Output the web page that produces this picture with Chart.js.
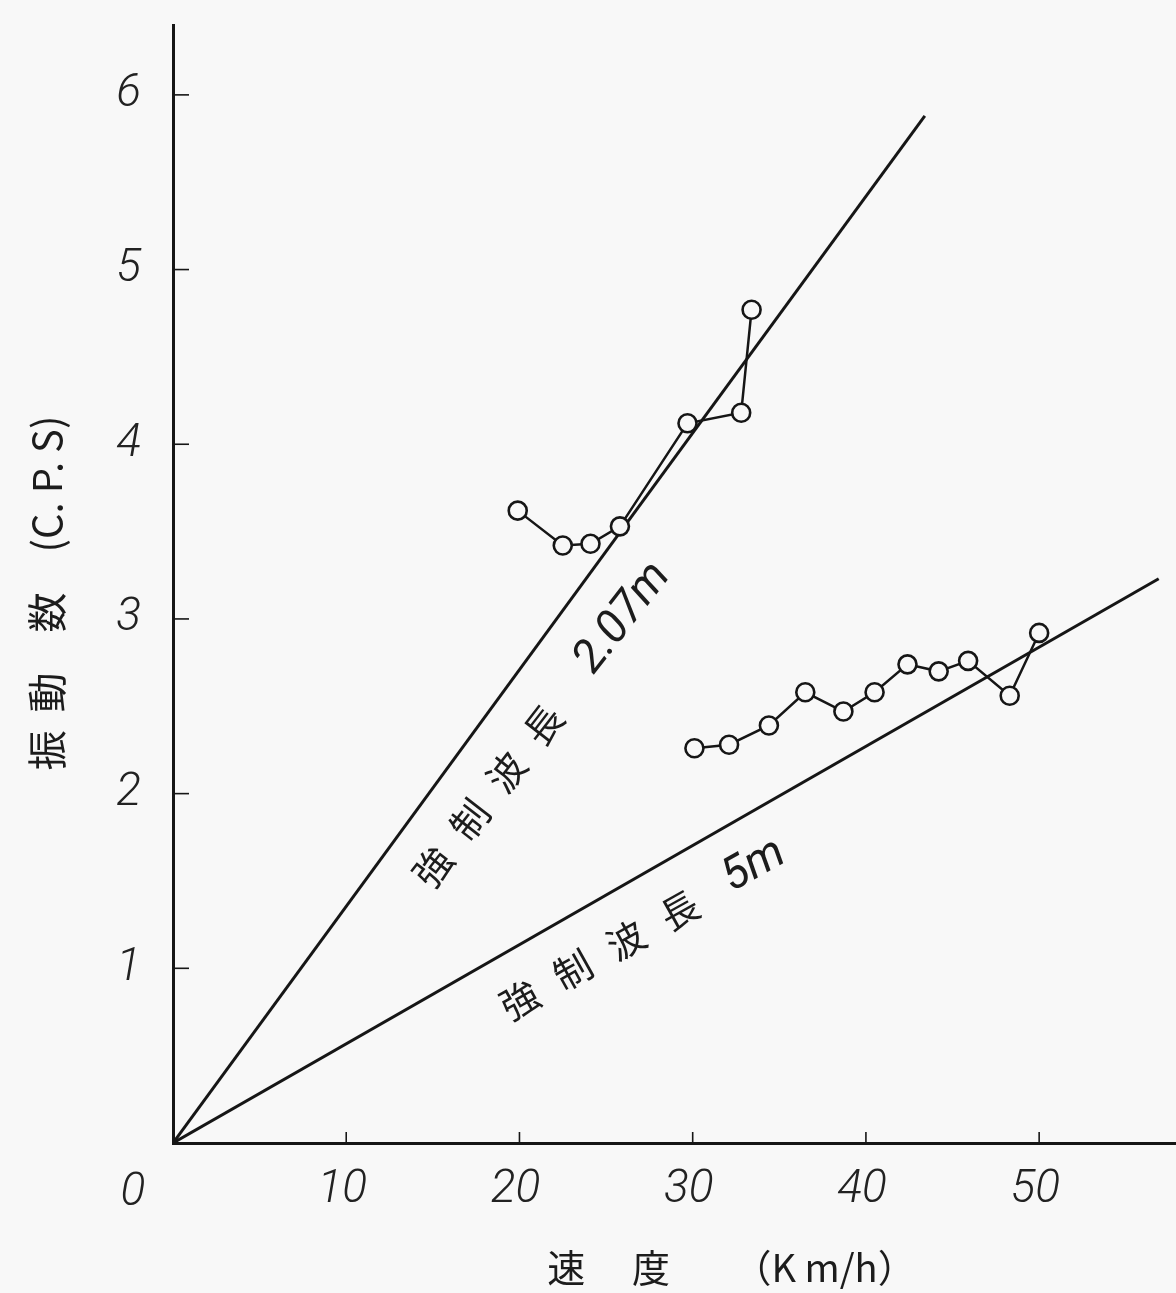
<!DOCTYPE html>
<html><head><meta charset="utf-8">
<script src="https://cdn.jsdelivr.net/npm/chart.js@4/dist/chart.umd.min.js"></script>
<style>html,body{margin:0;padding:0;background:#f8f8f8;overflow:hidden;} #wrap{width:1176px;height:1293px;overflow:hidden;} canvas{display:block;width:1176px;height:1293px;}</style>
</head><body><div id="wrap"><canvas id="c" width="1176" height="1293"></canvas></div>
<script>
// Theoretical lines: frequency = speed / forced wavelength
const lineSpeeds207 = [0, 43.4];
const lineFreqs207 = [0, 5.88];
const lineSpeeds5 = [0, 56.9];
const lineFreqs5 = [0, 3.23];
// Measured points
const speeds207 = [19.9, 22.5, 24.1, 25.8, 29.7, 32.8, 33.4];
const freqs207 = [3.62, 3.42, 3.43, 3.53, 4.12, 4.18, 4.77];
const speeds5 = [30.1, 32.1, 34.4, 36.5, 38.7, 40.5, 42.4, 44.2, 45.9, 48.3, 50.0];
const freqs5 = [2.26, 2.28, 2.39, 2.58, 2.47, 2.58, 2.74, 2.70, 2.76, 2.56, 2.92];
// Ticks and texts
const xTickValues = [0, 10, 20, 30, 40, 50];
const yTickValues = [1, 2, 3, 4, 5, 6];
const xTitle = '\u3000\u3000\u3000速\u3000 度\u3000   （K m/h）';
const yTitle = '振  動\u3000数\u3000(C. P. S)  ';
const label207 = ['強', '制', '波', '長'];
const unit207 = '2.07m';
const label5 = ['強', '制', '波', '長'];
const unit5 = '5m';

const toPts = (xs, ys) => xs.map((x, i) => ({x, y: ys[i]}));
const INK = '#161616';
const NUMFONT = 'Roboto, "DejaVu Sans", sans-serif';
const CJKFONT = '"Noto Sans CJK JP", "Noto Sans", sans-serif';

const decor = {
  id: 'decor',
  afterDatasetsDraw(chart) {
    const ctx = chart.ctx, xs = chart.scales.x, ys = chart.scales.y;
    const x0 = xs.getPixelForValue(0), y0 = ys.getPixelForValue(0);
    ctx.save();
    ctx.strokeStyle = INK; ctx.lineWidth = 1.6;
    // inward tick marks
    yTickValues.forEach(v => { const p = ys.getPixelForValue(v); ctx.beginPath(); ctx.moveTo(x0, p); ctx.lineTo(x0 + 16, p); ctx.stroke(); });
    xTickValues.filter(v => v > 0).forEach(v => { const p = xs.getPixelForValue(v); ctx.beginPath(); ctx.moveTo(p, y0); ctx.lineTo(p, y0 - 11); ctx.stroke(); });
    // origin label
    ctx.fillStyle = '#222';
    ctx.font = 'italic 300 46px ' + NUMFONT;
    ctx.textAlign = 'center'; ctx.textBaseline = 'middle';
    ctx.fillText(String(xTickValues[0]), x0 - 40, y0 + 50);
    // line annotations
    const draw = (ax, ay, ang, chars, step, unit, unitPos) => {
      ctx.save();
      ctx.translate(xs.getPixelForValue(ax), ys.getPixelForValue(ay));
      ctx.rotate(ang * Math.PI / 180);
      ctx.fillStyle = '#1c1c1c';
      ctx.textBaseline = 'middle';
      ctx.font = '38px ' + CJKFONT; ctx.textAlign = 'center';
      chars.forEach((c, i) => ctx.fillText(c, i * step, 0));
      ctx.font = 'italic 400 46px ' + NUMFONT; ctx.textAlign = 'left';
      ctx.fillText(unit, unitPos, -2);
      ctx.restore();
    };
    draw(15.0, 1.58, -52.2, label207, 60, unit207, 250);
    draw(20.0, 0.82, -29.2, label5, 61, unit5, 238);
    ctx.restore();
  }
};

const hiddenTicks = { display: true, drawOnChartArea: false, drawTicks: true, tickColor: 'rgba(0,0,0,0)' };

new Chart(document.getElementById('c'), {
  type: 'scatter',
  data: {
    datasets: [
      { label: '実測 2.07m', data: toPts(speeds207, freqs207), showLine: true, borderColor: INK, borderWidth: 2.5,
        pointRadius: 9, pointBorderWidth: 2.6, pointBackgroundColor: '#f8f8f8', pointBorderColor: INK },
      { label: '実測 5m', data: toPts(speeds5, freqs5), showLine: true, borderColor: INK, borderWidth: 2.5,
        pointRadius: 9, pointBorderWidth: 2.6, pointBackgroundColor: '#f8f8f8', pointBorderColor: INK },
      { label: '強制波長 2.07m', data: toPts(lineSpeeds207, lineFreqs207), showLine: true, borderColor: INK, borderWidth: 3, pointRadius: 0 },
      { label: '強制波長 5m', data: toPts(lineSpeeds5, lineFreqs5), showLine: true, borderColor: INK, borderWidth: 3, pointRadius: 0 }
    ]
  },
  options: {
    responsive: false, animation: false,
    layout: { autoPadding: false, padding: { top: 25, right: 0, bottom: 0, left: 0 } },
    plugins: { legend: { display: false }, tooltip: { enabled: false } },
    scales: {
      x: {
        type: 'linear', min: 0, max: 57.9,
        grid: Object.assign({ tickLength: 24 }, hiddenTicks),
        border: { display: true, color: INK, width: 3 },
        ticks: { stepSize: 10, includeBounds: false, autoSkip: false, padding: 0, labelOffset: -4, color: '#222',
          font: { family: NUMFONT, size: 46, style: 'italic', weight: 300, lineHeight: 1 },
          callback: v => (xTickValues.includes(v) && v !== 0) ? String(v) : '' },
        title: { display: true, text: xTitle, color: '#1c1c1c', font: { family: CJKFONT, size: 38, lineHeight: 1 }, padding: { top: 0, bottom: 6 } },
        afterFit: s => { s.height = 150; s.paddingLeft = 0; s.paddingRight = 0; }
      },
      y: {
        type: 'linear', min: 0, max: 6.4,
        grid: Object.assign({ tickLength: 32 }, hiddenTicks),
        border: { display: true, color: INK, width: 3 },
        ticks: { stepSize: 1, includeBounds: false, autoSkip: false, padding: 0, color: '#222',
          font: { family: NUMFONT, size: 46, style: 'italic', weight: 300, lineHeight: 1 },
          callback: v => yTickValues.includes(v) ? String(v) : '' },
        title: { display: true, text: yTitle, color: '#1c1c1c', font: { family: CJKFONT, size: 40, lineHeight: 1.2 }, padding: { top: 23, bottom: 0 } },
        afterFit: s => { s.width = 173; s.paddingTop = 0; s.paddingBottom = 0; }
      }
    }
  },
  plugins: [decor]
});
</script></body></html>
